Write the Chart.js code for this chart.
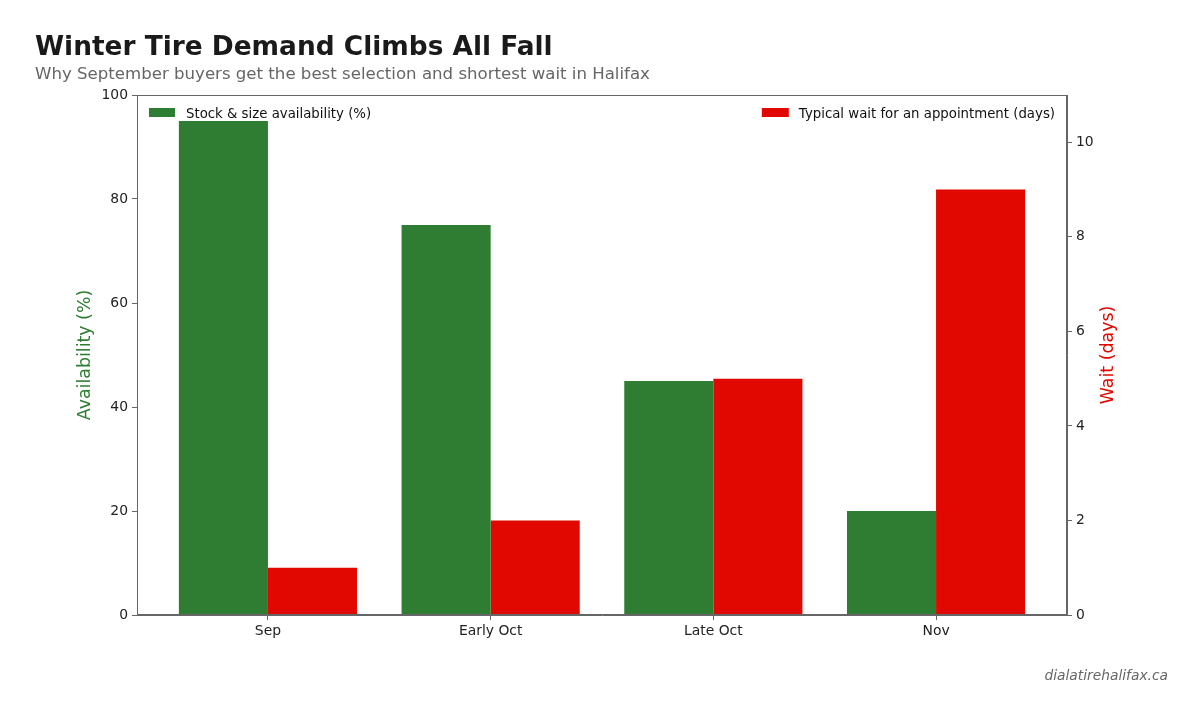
<!DOCTYPE html>
<html>
<head>
<meta charset="utf-8">
<script src="https://cdn.jsdelivr.net/npm/chart.js@4.4.0/dist/chart.umd.min.js"></script>
<style>
  html, body { margin: 0; padding: 0; background: #fff; }
  #wrap { width: 1204px; height: 717px; position: relative; }
</style>
</head>
<body>
<div id="wrap"><canvas id="myChart" width="1204" height="717"></canvas></div>
<script>
const categories = ['Sep', 'Early Oct', 'Late Oct', 'Nov'];
const availability = [95, 75, 45, 20];
const waitDays = [1, 2, 5, 9];
const availabilityTicks = [0, 20, 40, 60, 80, 100];
const waitTicks = [0, 2, 4, 6, 8, 10];

const GREEN = '#2e7d32';
const RED = '#e00800';
const FONT = '"DejaVu Sans", sans-serif';

// titles, legends, axis labels and the frame
const decorations = {
  id: 'decorations',
  afterDraw(chart) {
    const ctx = chart.ctx;
    const a = chart.chartArea;
    ctx.save();

    ctx.strokeStyle = '#666';
    ctx.lineWidth = 1;
    ctx.strokeRect(a.left + 0.5, a.top + 0.5, a.right - a.left - 1, a.bottom - a.top - 1);

    ctx.textBaseline = 'alphabetic';
    ctx.textAlign = 'left';
    ctx.fillStyle = '#1a1a1a';
    ctx.font = 'bold 26.4px ' + FONT;
    ctx.fillText('Winter Tire Demand Climbs All Fall', 35, 55);
    ctx.fillStyle = '#666';
    ctx.font = '16.6px ' + FONT;
    ctx.fillText('Why September buyers get the best selection and shortest wait in Halifax', 35, 79);

    ctx.font = 'italic 13.8px ' + FONT;
    ctx.textAlign = 'right';
    ctx.fillText('dialatirehalifax.ca', 1168, 680);

    // axis titles
    ctx.font = '17.4px ' + FONT;
    ctx.textAlign = 'center';
    ctx.textBaseline = 'middle';
    const midY = (a.top + a.bottom) / 2;
    ctx.fillStyle = GREEN;
    ctx.save();
    ctx.translate(85, midY);
    ctx.rotate(-Math.PI / 2);
    ctx.fillText('Availability (%)', 0, 0);
    ctx.restore();
    ctx.fillStyle = RED;
    ctx.save();
    ctx.translate(1108, midY);
    ctx.rotate(-Math.PI / 2);
    ctx.fillText('Wait (days)', 0, 0);
    ctx.restore();

    // two legends, one in each top corner
    const ds = chart.data.datasets;
    ctx.font = '13.3px ' + FONT;
    ctx.textAlign = 'left';
    ctx.textBaseline = 'alphabetic';
    ctx.fillStyle = ds[0].backgroundColor;
    ctx.fillRect(a.left + 12, a.top + 13, 26, 9);
    ctx.fillStyle = '#111';
    ctx.fillText(ds[0].label, a.left + 49, a.top + 23);

    const w = ctx.measureText(ds[1].label).width;
    const tx = a.right - 12 - w;
    ctx.fillStyle = ds[1].backgroundColor;
    ctx.fillRect(tx - 37, a.top + 13, 27, 9);
    ctx.fillStyle = '#111';
    ctx.fillText(ds[1].label, tx, a.top + 23);

    ctx.restore();
  }
};

const tickFont = { family: FONT, size: 13.9 };

new Chart(document.getElementById('myChart'), {
  type: 'bar',
  data: {
    datasets: [{
      label: 'Stock & size availability (%)',
      data: categories.map((c, i) => ({ x: i, y: availability[i] })),
      backgroundColor: GREEN,
      yAxisID: 'y'
    }, {
      label: 'Typical wait for an appointment (days)',
      data: categories.map((c, i) => ({ x: i, y: waitDays[i] })),
      backgroundColor: RED,
      yAxisID: 'y1'
    }]
  },
  options: {
    responsive: false,
    animation: false,
    categoryPercentage: 0.8,
    barPercentage: 1,
    layout: { padding: { top: 95, left: 35, right: 36, bottom: 0 } },
    plugins: {
      legend: { display: false },
      tooltip: { enabled: false }
    },
    scales: {
      x: {
        type: 'linear',
        offset: false,
        min: -0.588,
        max: 3.588,
        afterBuildTicks: s => { s.ticks = categories.map((c, i) => ({ value: i })); },
        afterFit: s => { s.height = 102; },
        ticks: {
          callback: v => categories[v],
          font: tickFont, color: '#222', padding: 3
        },
        grid: { offset: false, drawOnChartArea: false, tickLength: 5, color: '#666' },
        border: { color: '#666' }
      },
      y: {
        position: 'left',
        min: 0, max: 100,
        afterBuildTicks: s => { s.ticks = availabilityTicks.map(v => ({ value: v })); },
        afterFit: s => { s.width = 102; },
        ticks: { font: tickFont, color: '#222', padding: 4 },
        grid: { drawOnChartArea: false, tickLength: 5, color: '#666' },
        border: { color: '#666' }
      },
      y1: {
        position: 'right',
        min: 0, max: 11,
        afterBuildTicks: s => { s.ticks = waitTicks.map(v => ({ value: v })); },
        afterFit: s => { s.width = 101; },
        ticks: { font: tickFont, color: '#222', padding: 4 },
        grid: { drawOnChartArea: false, tickLength: 5, color: '#666' },
        border: { color: '#666' }
      }
    }
  },
  plugins: [decorations]
});
</script>
</body>
</html>
